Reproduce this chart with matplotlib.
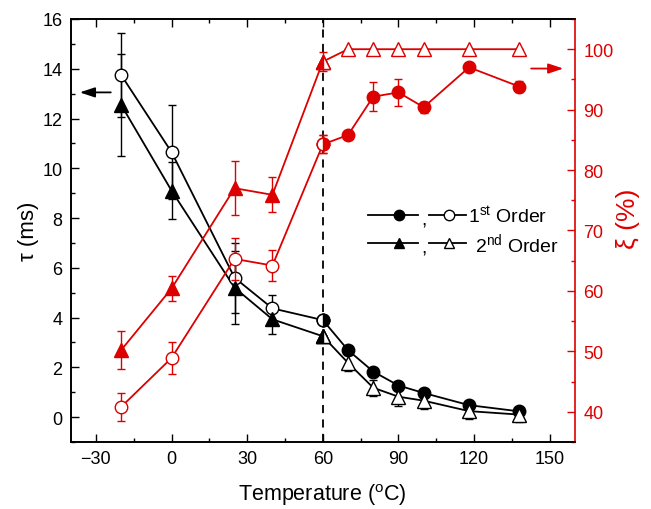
#!/usr/bin/env python3

import matplotlib
matplotlib.use('Agg')
import matplotlib.pyplot as plt  # type: ignore
from matplotlib.lines import Line2D  # type: ignore
from matplotlib.ticker import MultipleLocator  # type: ignore

plt.rcParams['font.family'] = ['Liberation Sans', 'DejaVu Sans']
plt.rcParams['mathtext.fontset'] = 'custom'
plt.rcParams['mathtext.rm'] = 'Liberation Sans'
plt.rcParams['mathtext.it'] = 'Liberation Sans:italic'

RED = '#DD0000'

# temperatures below / above the 60 C transition (60 shared)
temp_low = [-20, 0, 25, 40, 60]
temp_high = [60, 70, 80, 90, 100, 118, 138]

# tau (ms), left axis
tau1_low = [13.75, 10.65, 5.6, 4.37, 3.9]
tau1_low_err = [1.7, 1.9, 1.4, 0.55, 0.0]
tau2_low = [12.55, 9.1, 5.2, 3.93, 3.25]
tau2_low_err = [2.05, 1.15, 1.47, 0.6, 0.0]
tau1_high = [3.9, 2.69, 1.83, 1.27, 0.97, 0.48, 0.23]
tau1_high_err = [0.0, 0.0, 0.0, 0.0, 0.0, 0.0, 0.0]
tau2_high = [3.25, 2.18, 1.18, 0.82, 0.66, 0.24, 0.1]
tau2_high_err = [0.0, 0.32, 0.33, 0.36, 0.33, 0.3, 0.3]

# xi (%), right axis
xi1_low = [40.8, 48.9, 65.3, 64.2, 84.25]
xi1_low_err = [2.3, 2.6, 3.5, 2.6, 1.5]
xi2_low = [50.2, 60.4, 77.0, 75.9, 97.95]
xi2_low_err = [3.2, 2.0, 4.5, 2.9, 1.6]
xi1_high = [84.25, 85.8, 92.15, 92.85, 90.4, 97.0, 93.8]
xi1_high_err = [1.5, 0.5, 2.4, 2.3, 0.9, 0.3, 0.9]
xi2_high = [97.95, 100, 100, 100, 100, 100, 100]
xi2_high_err = [0.0, 0.0, 0.0, 0.0, 0.0, 0.0, 0.0]


def plot_series(ax, x, y, err, color, marker, filled, ms):
    ax.errorbar(x, y, yerr=err, fmt='none', ecolor=color, elinewidth=1.0,
                capsize=3.0, capthick=1.0, zorder=2)
    ax.plot(x, y, '-', color=color, lw=1.3, zorder=3)
    face = color if filled else 'white'
    ax.plot(x, y, linestyle='none', marker=marker, ms=ms, mfc=face,
            mec=color, mew=1.0, zorder=4)


def plot_junction(ax, x, y, color, marker, side, ms):
    # half-filled marker where the two series meet
    ax.plot([x], [y], linestyle='none', marker=marker, ms=ms, mfc=color,
            mfcalt='white', fillstyle=side, mec=color, mew=1.0, zorder=5)


fig = plt.figure(figsize=(6.51, 5.10), dpi=100)
ax = fig.add_axes([0.1086, 0.1314, 0.7746, 0.8294])
ax2 = ax.twinx()

ax.axvline(60, color='black', lw=1.3, ls=(0, (4.5, 3.5)), zorder=1)

plot_series(ax, temp_low, tau1_low, tau1_low_err, 'black', 'o', False, 9)
plot_series(ax, temp_low, tau2_low, tau2_low_err, 'black', '^', True, 9.5)
plot_series(ax, temp_high, tau1_high, tau1_high_err, 'black', 'o', True, 9)
plot_series(ax, temp_high, tau2_high, tau2_high_err, 'black', '^', False, 9.5)
plot_junction(ax, temp_low[-1], tau1_low[-1], 'black', 'o', 'right', 9)
plot_junction(ax, temp_low[-1], tau2_low[-1], 'black', '^', 'left', 9.5)

plot_series(ax2, temp_low, xi1_low, xi1_low_err, RED, 'o', False, 9)
plot_series(ax2, temp_low, xi2_low, xi2_low_err, RED, '^', True, 9.5)
plot_series(ax2, temp_high, xi1_high, xi1_high_err, RED, 'o', True, 9)
plot_series(ax2, temp_high, xi2_high, xi2_high_err, RED, '^', False, 9.5)
plot_junction(ax2, temp_low[-1], xi1_low[-1], RED, 'o', 'right', 9)
plot_junction(ax2, temp_low[-1], xi2_low[-1], RED, '^', 'left', 9.5)

ax.set_xlim(-40, 160)
ax.set_ylim(-1, 16)
ax2.set_ylim(35, 105)

ax.xaxis.set_major_locator(MultipleLocator(30))
ax.xaxis.set_minor_locator(MultipleLocator(15))
ax.yaxis.set_major_locator(MultipleLocator(2))
ax.yaxis.set_minor_locator(MultipleLocator(1))
ax2.yaxis.set_major_locator(MultipleLocator(10))
ax2.yaxis.set_minor_locator(MultipleLocator(5))

ax.tick_params(which='both', direction='in', top=True, right=False,
               width=1.0, labelsize=13, pad=6)
ax.tick_params(which='major', length=6)
ax.tick_params(which='minor', length=3)
ax2.tick_params(which='both', direction='in', colors=RED, width=1.0,
                labelsize=13, pad=6)
ax2.tick_params(which='major', length=6)
ax2.tick_params(which='minor', length=3)

for a in (ax, ax2):
    for s in a.spines.values():
        s.set_linewidth(1.2)
ax2.spines['right'].set_color(RED)
ax.spines['right'].set_visible(False)

ax.set_xlabel('Temperature ($^{\\mathrm{o}}$C)', fontsize=15.5, labelpad=10)
ax.set_ylabel('τ (ms)', fontsize=16, labelpad=2)
ax2.set_ylabel('ξ (%)', fontsize=19, color=RED, rotation=90)
ax2.yaxis.set_label_coords(1.082, 0.53)

# arrows pointing to the axes
ax.annotate('', xy=(-37.5, 13.05), xytext=(-23, 13.05),
            arrowprops=dict(arrowstyle='-|>,head_length=0.9,head_width=0.3',
                            color='black', lw=1.3))
ax2.annotate('', xy=(156.5, 96.8), xytext=(141.5, 96.8),
             arrowprops=dict(arrowstyle='-|>,head_length=0.9,head_width=0.3',
                             color=RED, lw=1.3))

# hand-made legend
rows = [(0.5374, 'o', '1$^{\\mathrm{st}}$ Order', 0.7878),
        (0.4697, '^', '2$^{\\mathrm{nd}}$ Order', 0.8017)]
for (yy, mk, label, tx) in rows:
    ax2.add_line(Line2D([0.5895, 0.6887], [yy, yy], transform=ax2.transAxes,
                        color='black', lw=1.3))
    ax2.add_line(Line2D([0.6506], [yy], transform=ax2.transAxes, marker=mk,
                        ms=7.5, mfc='black', mec='black', linestyle='none'))
    ax2.text(0.700, yy - 0.012, ',', transform=ax2.transAxes, fontsize=14,
             ha='center', va='center')
    ax2.add_line(Line2D([0.7115, 0.7838], [yy, yy], transform=ax2.transAxes,
                        color='black', lw=1.3))
    ax2.add_line(Line2D([0.7497], [yy], transform=ax2.transAxes, marker=mk,
                        ms=7.5, mfc='white', mec='black', mew=1.0,
                        linestyle='none'))
    ax2.text(tx, yy, label, transform=ax2.transAxes, fontsize=14,
             ha='left', va='center')

fig.savefig('out.png', dpi=100)
